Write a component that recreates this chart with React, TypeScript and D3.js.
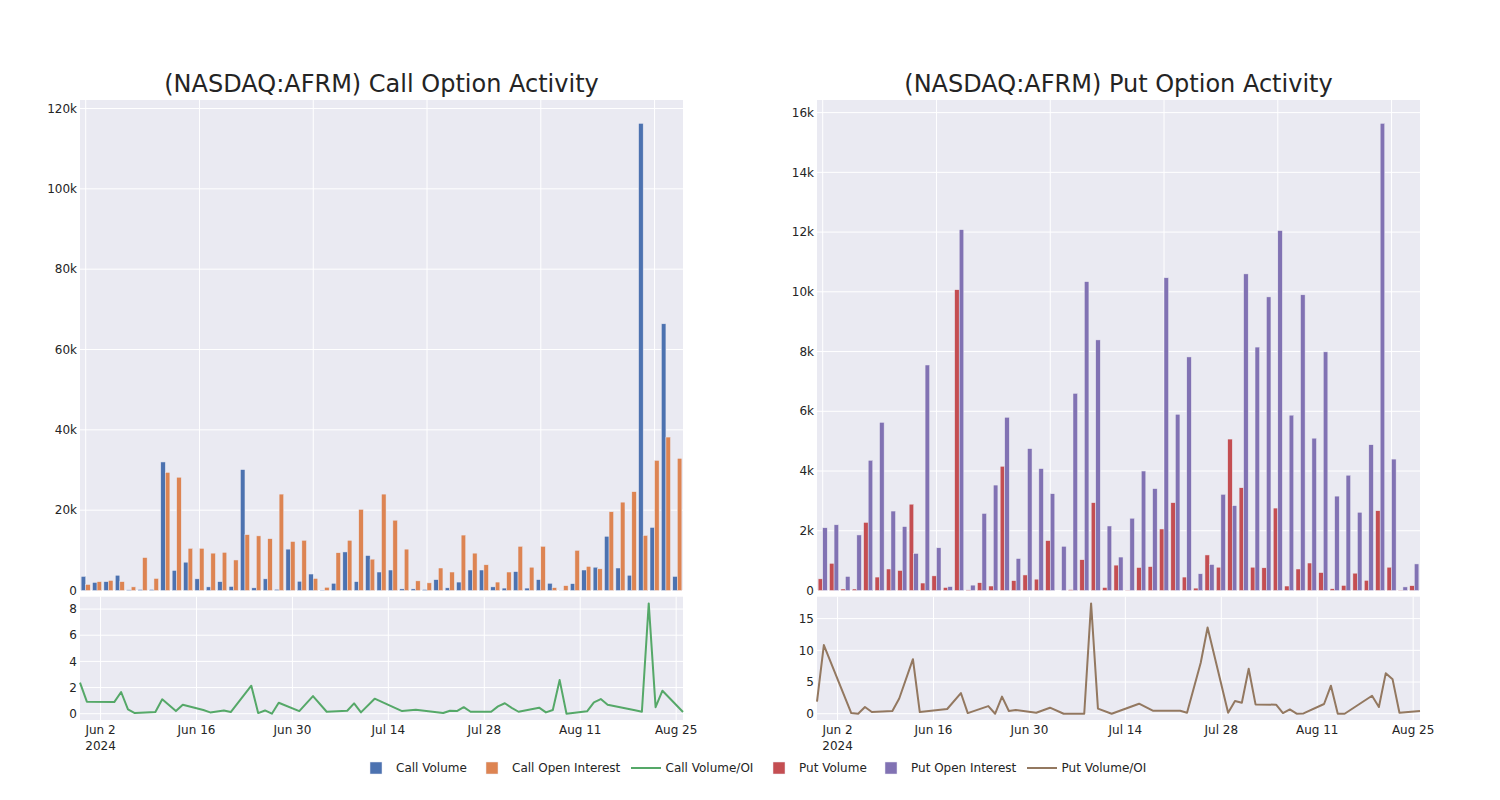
import React from 'react';
import * as d3 from 'd3';

// trading dates shown in both panels
const dates = [
  '2024-05-30', '2024-05-31', '2024-06-04', '2024-06-05', '2024-06-06', '2024-06-07', '2024-06-10',
  '2024-06-11', '2024-06-13', '2024-06-14', '2024-06-17', '2024-06-18', '2024-06-20', '2024-06-21',
  '2024-06-24', '2024-06-25', '2024-06-26', '2024-06-27', '2024-06-28', '2024-07-01', '2024-07-03',
  '2024-07-05', '2024-07-08', '2024-07-09', '2024-07-10', '2024-07-12', '2024-07-16', '2024-07-18',
  '2024-07-22', '2024-07-23', '2024-07-24', '2024-07-25', '2024-07-26', '2024-07-29', '2024-07-30',
  '2024-07-31', '2024-08-01', '2024-08-02', '2024-08-05', '2024-08-06', '2024-08-07', '2024-08-08',
  '2024-08-09', '2024-08-12', '2024-08-13', '2024-08-14', '2024-08-15', '2024-08-19', '2024-08-20',
  '2024-08-21', '2024-08-22', '2024-08-23', '2024-08-26',
];

const callVolume = [
  3500, 2000, 2200, 3800, 170, 250, 250, 32000, 5000, 7050,
  2900, 900, 2200, 1000, 30100, 660, 2900, 300, 10300, 2300,
  4100, 100, 1800, 9600, 2200, 8700, 4600, 5100, 400, 400,
  250, 2700, 660, 2100, 5100, 5100, 900, 600, 4700, 600,
  2700, 1800, 30, 1700, 5100, 5800, 13500, 5600, 3800, 116300,
  15700, 66400, 3500,
];
const callOI = [
  1500, 2200, 2500, 2200, 900, 8200, 3000, 29400, 28200, 10500,
  10500, 9300, 9500, 7600, 13900, 13600, 12900, 24000, 12200, 12500,
  3000, 800, 9400, 12500, 20200, 7800, 24000, 17500, 10300, 2400,
  1900, 5600, 4600, 13800, 9300, 6400, 2100, 4600, 11000, 5800,
  11000, 700, 1200, 10000, 6000, 5400, 19600, 22000, 24600, 13700,
  32400, 38200, 32900,
];
const callRatio = [
  2.37, 0.92, 0.89, 1.66, 0.33, 0.05, 0.13, 1.1, 0.2, 0.69,
  0.28, 0.1, 0.25, 0.13, 2.14, 0.05, 0.25, 0.0, 0.84, 0.2,
  1.35, 0.15, 0.23, 0.79, 0.1, 1.15, 0.2, 0.3, 0.05, 0.23,
  0.2, 0.5, 0.15, 0.15, 0.56, 0.8, 0.45, 0.15, 0.46, 0.1,
  0.28, 2.57, 0.0, 0.18, 0.87, 1.12, 0.69, 0.26, 0.15, 8.43,
  0.5, 1.76, 0.13,
];

const putVolume = [
  390, 910, 50, 50, 2280, 450, 720, 670, 2890, 250,
  490, 100, 10070, 20, 260, 150, 4160, 330, 520, 380,
  1670, 0, 30, 1030, 2940, 100, 850, 10, 770, 800,
  2060, 2940, 450, 80, 1190, 780, 5070, 3440, 780, 760,
  2760, 150, 720, 920, 600, 60, 170, 580, 340, 2670,
  780, 10, 160,
];
const putOI = [
  2100, 2200, 470, 1860, 4360, 5630, 2660, 2140, 1240, 7550,
  1430, 130, 12080, 180, 2580, 3530, 5800, 1070, 4750, 4080,
  3240, 1480, 6600, 10340, 8390, 2160, 1120, 2420, 4000, 3410,
  10470, 5900, 7820, 560, 870, 3220, 2840, 10600, 8150, 9830,
  12050, 5870, 9900, 5100, 7990, 3160, 3860, 2620, 4880, 15640,
  4400, 120, 890,
];
const putRatio = [
  1.9, 10.84, 0.1, 0, 1.05, 0.26, 0.42, 2.4, 8.6, 0.26,
  0.62, 0.74, 3.26, 0.1, 1.2, 0, 2.7, 0.42, 0.58, 0.16,
  0.95, 0, 0, 17.4, 0.8, 0, 1.58, 0.47, 0.47, 0.16,
  4.1, 8.05, 13.6, 0.16, 2.0, 1.74, 7.1, 1.47, 1.42, 0.1,
  0.68, 0, 0.05, 1.53, 4.42, 0, 0, 2.84, 1.05, 6.37,
  5.42, 0.16, 0.42,
];

const callBarTicks = [0, 20000, 40000, 60000, 80000, 100000, 120000];
const putBarTicks = [0, 2000, 4000, 6000, 8000, 10000, 12000, 14000, 16000];
const callRatioTicks = [0, 2, 4, 6, 8];
const putRatioTicks = [0, 5, 10, 15];

const legendItems = [
  { label: 'Call Volume', color: '#4c72b0', kind: 'bar', x: 376 },
  { label: 'Call Open Interest', color: '#dd8452', kind: 'bar', x: 492 },
  { label: 'Call Volume/OI', color: '#55a868', kind: 'line', x: 646 },
  { label: 'Put Volume', color: '#c44e52', kind: 'bar', x: 779 },
  { label: 'Put Open Interest', color: '#8172b3', kind: 'bar', x: 891 },
  { label: 'Put Volume/OI', color: '#937860', kind: 'line', x: 1042 },
];

const BG = 'rgb(234,234,242)';
const INK = 'rgb(36,36,36)';
const FONT = '"DejaVu Sans", Verdana, sans-serif';

const parse = d3.timeParse('%Y-%m-%d');
const dateObjs = dates.map(d => parse(d) as Date);

const TOP = { y0: 100, y1: 590.5 };
const BOT = { y0: 596.7, y1: 720 };

interface PanelProps {
  title: string;
  x0: number;
  x1: number;
  vol: number[];
  oi: number[];
  ratio: number[];
  volColor: string;
  oiColor: string;
  ratioColor: string;
  barTicks: number[];
  ratioTicks: number[];
}

const Panel: React.FC<PanelProps> = ({
  title, x0, x1, vol, oi, ratio, volColor, oiColor, ratioColor, barTicks, ratioTicks,
}) => {
  const n = dates.length;
  const band = d3.scaleBand<number>().domain(d3.range(n)).range([x0, x1]);
  const step = band.step();
  const inner = d3.scaleBand<string>().domain(['vol', 'oi']).range([0, step * 0.8]);

  const barMax = d3.max([...vol, ...oi]) as number;
  const y = d3.scaleLinear().domain([0, barMax * 1.05]).range([TOP.y1, TOP.y0]);

  const rMin = d3.min(ratio) as number;
  const rMax = d3.max(ratio) as number;
  const rr = rMax - rMin;
  const yr = d3.scaleLinear()
    .domain([rMin - rr * 0.057, rMax + rr * 0.061])
    .range([BOT.y1, BOT.y0]);

  const t = d3.scaleTime()
    .domain([dateObjs[0], dateObjs[n - 1]])
    .range([x0, x1]);
  const timeTicks = d3.timeDay.range(new Date(2024, 5, 2), new Date(2024, 7, 27), 14);
  const fmt = d3.timeFormat('%b %-d');
  const kfmt = d3.format('~s');

  const line = d3.line<number>()
    .x((_d, i) => t(dateObjs[i]))
    .y(d => yr(d));

  const catGrid = d3.range(0, n, 10);

  return (
    <g>
      <text x={(x0 + x1) / 2} y={84} textAnchor="middle" dominantBaseline="central"
        fontSize={24} fill={INK}>{title}</text>

      {/* bar panel */}
      <rect x={x0} y={TOP.y0} width={x1 - x0} height={TOP.y1 - TOP.y0} fill={BG} />
      {barTicks.map(v => (
        <line key={'gy' + v} x1={x0} x2={x1} y1={y(v)} y2={y(v)} stroke="white" strokeWidth={1} />
      ))}
      {catGrid.map(i => {
        const cx = (band(i) as number) + step / 2;
        return <line key={'gx' + i} x1={cx} x2={cx} y1={TOP.y0} y2={TOP.y1} stroke="white" strokeWidth={1} />;
      })}
      {vol.map((v, i) => (
        <rect key={'v' + i}
          x={(band(i) as number) + step * 0.1 + (inner('vol') as number)}
          y={y(v)} width={inner.bandwidth()} height={TOP.y1 - y(v)}
          fill={volColor} stroke={BG} strokeWidth={0.5} />
      ))}
      {oi.map((v, i) => (
        <rect key={'o' + i}
          x={(band(i) as number) + step * 0.1 + (inner('oi') as number)}
          y={y(v)} width={inner.bandwidth()} height={TOP.y1 - y(v)}
          fill={oiColor} stroke={BG} strokeWidth={0.5} />
      ))}
      {barTicks.map(v => (
        <text key={'ly' + v} x={x0 - 3} y={y(v)} dy="0.35em" textAnchor="end"
          fontSize={12} fill={INK}>{kfmt(v)}</text>
      ))}

      {/* ratio panel */}
      <rect x={x0} y={BOT.y0} width={x1 - x0} height={BOT.y1 - BOT.y0} fill={BG} />
      {ratioTicks.map(v => (
        <line key={'ry' + v} x1={x0} x2={x1} y1={yr(v)} y2={yr(v)} stroke="white" strokeWidth={1} />
      ))}
      {timeTicks.map(d => (
        <line key={'tx' + d.getTime()} x1={t(d)} x2={t(d)} y1={BOT.y0} y2={BOT.y1} stroke="white" strokeWidth={1} />
      ))}
      <path d={line(ratio) as string} fill="none" stroke={ratioColor} strokeWidth={2} strokeLinejoin="round" />
      {ratioTicks.map(v => (
        <text key={'rl' + v} x={x0 - 3} y={yr(v)} dy="0.35em" textAnchor="end"
          fontSize={12} fill={INK}>{v}</text>
      ))}
      {timeTicks.map((d, i) => (
        <text key={'tl' + d.getTime()} x={t(d)} y={733.5} textAnchor="middle" fontSize={12} fill={INK}>
          {fmt(d)}
          {i === 0 && <tspan x={t(d)} dy={16}>2024</tspan>}
        </text>
      ))}
    </g>
  );
};

const Legend: React.FC = () => (
  <g>
    {legendItems.map(it => (
      <g key={it.label}>
        {it.kind === 'bar'
          ? <rect x={it.x - 6} y={762} width={12} height={12} fill={it.color} stroke={BG} strokeWidth={0.5} />
          : <line x1={it.x - 15} x2={it.x + 15} y1={768} y2={768} stroke={it.color} strokeWidth={2} />}
        <text x={it.kind === 'bar' ? it.x + 20 : it.x + 19.5} y={768} dy="0.35em"
          fontSize={12} fill={INK}>{it.label}</text>
      </g>
    ))}
  </g>
);

export default function App() {
  return (
    <div style={{ position: 'fixed', left: 0, top: 0 }}>
      <svg width={1500} height={800} style={{ display: 'block', background: 'white', fontFamily: FONT }}>
        <Panel title="(NASDAQ:AFRM) Call Option Activity" x0={80} x1={683}
          vol={callVolume} oi={callOI} ratio={callRatio}
          volColor="#4c72b0" oiColor="#dd8452" ratioColor="#55a868"
          barTicks={callBarTicks} ratioTicks={callRatioTicks} />
        <Panel title="(NASDAQ:AFRM) Put Option Activity" x0={817} x1={1420}
          vol={putVolume} oi={putOI} ratio={putRatio}
          volColor="#c44e52" oiColor="#8172b3" ratioColor="#937860"
          barTicks={putBarTicks} ratioTicks={putRatioTicks} />
        <Legend />
      </svg>
    </div>
  );
}
